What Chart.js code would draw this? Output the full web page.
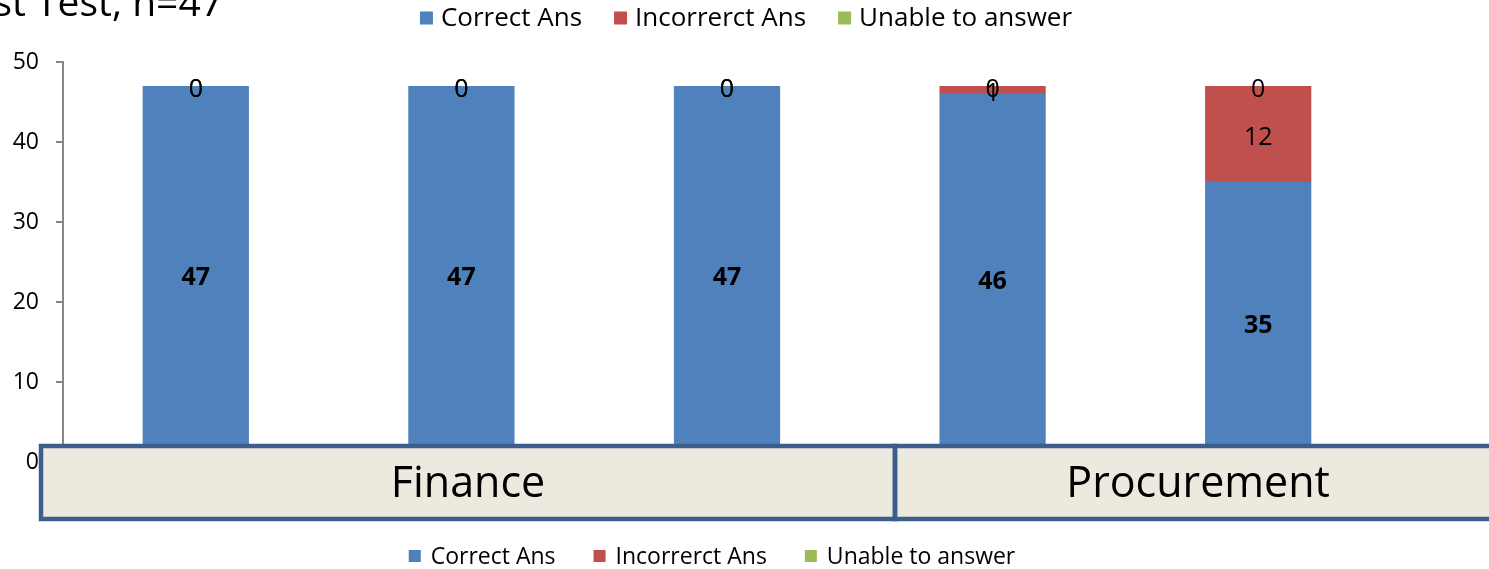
<!DOCTYPE html>
<html>
<head>
<meta charset="utf-8">
<script src="https://cdn.jsdelivr.net/npm/chart.js@4.4.1/dist/chart.umd.min.js"></script>
<style>
  html, body { margin: 0; padding: 0; background: #fff; }
  #wrap { width: 1489px; height: 569px; }
</style>
</head>
<body>
<div id="wrap"><canvas id="chart"></canvas></div>
<script>
// data
const categories = ['1', '2', '3', '4', '5'];
const seriesNames = ['Correct Ans', 'Incorrerct Ans', 'Unable to answer'];
const correctAns = [47, 47, 47, 46, 35];
const incorrectAns = [0, 0, 0, 1, 12];
const unableAns = [0, 0, 0, 0, 0];
const yTicks = [0, 10, 20, 30, 40, 50];
const groupLabels = ['Finance', 'Procurement'];
const titleText = 'Post Test, n=47';

const colors = ['#4F81BD', '#C0504D', '#9BBB59'];
const FONT = '"Open Sans", "Noto Sans", sans-serif';

// value labels on the bars
const valueLabels = {
  id: 'valueLabels',
  afterDatasetsDraw(chart) {
    const ctx = chart.ctx;
    ctx.save();
    ctx.textAlign = 'center';
    ctx.textBaseline = 'middle';
    ctx.fillStyle = '#000';
    chart.data.datasets.forEach((ds, i) => {
      const meta = chart.getDatasetMeta(i);
      ctx.font = (i === 0 ? 'bold ' : '') + '25px ' + FONT;
      meta.data.forEach((bar, j) => {
        const y = (bar.y + bar.base) / 2;
        ctx.fillText(String(ds.data[j]), bar.x, y + 4);
      });
    });
    ctx.restore();
  }
};

function drawLegend(chart, cx, cy, size, box, gapText, gapItem) {
  const ctx = chart.ctx;
  ctx.save();
  ctx.font = size + 'px ' + FONT;
  ctx.textBaseline = 'middle';
  ctx.textAlign = 'left';
  const items = chart.data.datasets.map(ds => ({ text: ds.label, color: ds.backgroundColor, w: ctx.measureText(ds.label).width }));
  let total = 0;
  items.forEach((it, k) => { total += box + gapText + it.w + (k < items.length - 1 ? gapItem : 0); });
  let x = cx - total / 2;
  items.forEach(it => {
    ctx.fillStyle = it.color;
    ctx.fillRect(x, cy - box / 2, box, box);
    x += box + gapText;
    ctx.fillStyle = '#000';
    ctx.fillText(it.text, x, cy + 1);
    x += it.w + gapItem;
  });
  ctx.restore();
}

// title, both legends and the group box laid over the x axis
const decorations = {
  id: 'decorations',
  afterDraw(chart) {
    const ctx = chart.ctx;
    const a = chart.chartArea;

    ctx.save();
    ctx.font = '39px ' + FONT;
    ctx.fillStyle = '#000';
    ctx.textAlign = 'right';
    ctx.textBaseline = 'alphabetic';
    ctx.fillText(titleText, 223, 16);
    ctx.restore();

    drawLegend(chart, 746, 18, 26, 13, 8, 32);
    drawLegend(chart, 712, 556, 23, 12, 10, 38);

    // group box
    const left = a.left - 22;
    const top = a.bottom - 16;
    const h = 73;
    const mid = a.left + (a.right - a.left) * 0.6265;
    const right = a.left + (a.right - a.left) * 1.083;
    ctx.save();
    ctx.fillStyle = '#ECEADF';
    ctx.fillRect(left, top, right - left, h);
    ctx.strokeStyle = '#3B5E8C';
    ctx.lineWidth = 4.5;
    ctx.strokeRect(left, top, mid - left, h);
    ctx.strokeRect(mid, top, right - mid, h);
    ctx.fillStyle = '#000';
    ctx.font = '43px ' + FONT;
    ctx.textAlign = 'center';
    ctx.textBaseline = 'middle';
    ctx.fillText(groupLabels[0], (left + mid) / 2, top + h / 2 + 2);
    ctx.fillText(groupLabels[1], (mid + right) / 2, top + h / 2 + 2);
    ctx.restore();
  }
};

new Chart(document.getElementById('chart'), {
  type: 'bar',
  data: {
    labels: categories,
    datasets: [
      { label: seriesNames[0], data: correctAns, backgroundColor: colors[0] },
      { label: seriesNames[1], data: incorrectAns, backgroundColor: colors[1] },
      { label: seriesNames[2], data: unableAns, backgroundColor: colors[2] }
    ]
  },
  options: {
    responsive: true,
    maintainAspectRatio: false,
    animation: false,
    layout: { padding: { top: 62, bottom: 107, left: 0, right: 98 } },
    datasets: { bar: { barPercentage: 0.4, categoryPercentage: 1 } },
    plugins: {
      legend: { display: false },
      tooltip: { enabled: false }
    },
    scales: {
      x: { stacked: true, display: false },
      y: {
        stacked: true,
        min: 0,
        max: 50,
        afterBuildTicks: s => { s.ticks = yTicks.map(v => ({ value: v })); },
        afterFit: s => { s.width = 63; },
        grid: { drawOnChartArea: false, drawTicks: true, tickLength: 7, color: '#868686', lineWidth: 2 },
        border: { color: '#868686', width: 2 },
        ticks: { padding: 17, color: '#000', font: { family: FONT, size: 23 } }
      }
    }
  },
  plugins: [valueLabels, decorations]
});
</script>
</body>
</html>
